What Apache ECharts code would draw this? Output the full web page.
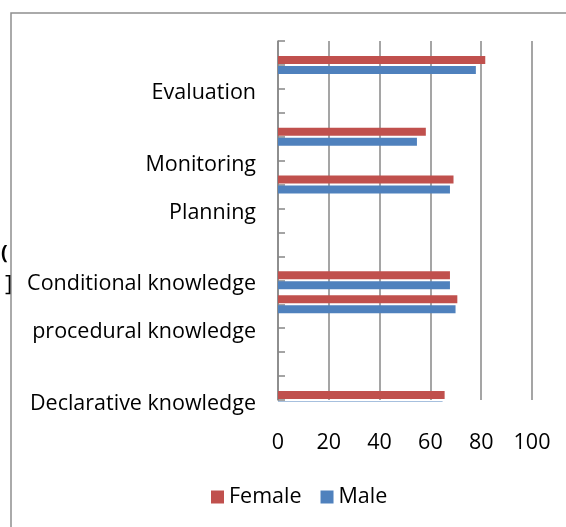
<!DOCTYPE html>
<html>
<head>
<meta charset="utf-8">
<script src="https://cdn.jsdelivr.net/npm/echarts@6/dist/echarts.min.js"></script>
<style>
  html, body { margin: 0; padding: 0; background: #fff; }
  #chart { width: 566px; height: 527px; }
</style>
</head>
<body>
<div id="chart"></div>
<script>
// slot positions along the vertical axis (16 tick positions, top to bottom)
const categoryLabels = [
    '', '', 'Evaluation', '', '', 'Monitoring', '', 'Planning', '', '',
    'Conditional knowledge', '', 'procedural knowledge', '', '', 'Declarative knowledge',
];
const femaleValues = [null, 81.6, null, null, 58.2, null, 69.1, null, null, null, 67.7, 70.6, null, null, null, 65.6];
const maleValues = [null, 77.9, null, null, 54.7, null, 67.7, null, null, null, 67.7, 69.9, null, null, null, 64.8];
const seriesNames = ['Female', 'Male'];
const seriesColors = ['#C0504D', '#4F81BD'];

const FONT = 'Open Sans';
const FONT_SIZE = 21.5;
const GRID_COLOR = '#878787';

const chart = echarts.init(document.getElementById('chart'), null, { renderer: 'canvas' });
window.addEventListener('resize', chart.resize);

const option = {
    animation: false,
    textStyle: { fontFamily: FONT },
    grid: { left: 278, top: 41, right: 34, bottom: 127, containLabel: false },
    legend: {
        data: seriesNames,
        left: 206,
        top: 481,
        icon: 'rect',
        itemWidth: 13,
        itemHeight: 13,
        itemGap: 19,
        textStyle: { fontFamily: FONT, fontSize: FONT_SIZE, color: '#000' },
    },
    xAxis: {
        type: 'value',
        min: 0,
        max: 100,
        interval: 20,
        axisLine: { show: false },
        axisTick: { show: false },
        axisLabel: { fontFamily: FONT, fontSize: FONT_SIZE, color: '#000', margin: 32 },
        splitLine: { lineStyle: { color: GRID_COLOR, width: 1.5 } },
    },
    yAxis: {
        type: 'category',
        inverse: true,
        boundaryGap: false,
        data: categoryLabels,
        axisLine: { show: true, lineStyle: { color: GRID_COLOR, width: 1.5 } },
        axisTick: { show: true, inside: true, length: 7, interval: 0, lineStyle: { color: GRID_COLOR, width: 1.5 } },
        axisLabel: {
            interval: 0, fontFamily: FONT, fontSize: FONT_SIZE, color: '#000', margin: 22,
            verticalAlign: 'top', lineHeight: 8,
        },
        splitLine: { show: false },
    },
    series: [femaleValues, maleValues].map((values, i) => ({
        name: seriesNames[i],
        type: 'bar',
        data: values,
        barWidth: 8,
        barGap: '25%',
        itemStyle: { color: seriesColors[i] },
    })),
    graphic: [
        {
            type: 'rect',
            shape: { x: 11, y: 13, width: 700, height: 700 },
            style: { fill: 'none', stroke: '#8f8f8f', lineWidth: 1.5 },
            silent: true,
        },
        // the plot area cuts off whatever runs past its bottom edge
        {
            type: 'rect',
            shape: { x: 270, y: 401.5, width: 280, height: 12 },
            style: { fill: '#fff' },
            z: 100,
            silent: true,
        },
        // clipped leftovers of a hidden title at the far left edge
        { type: 'text', left: 1, top: 243, style: { text: '(', font: 'bold 20px ' + FONT, fill: '#000' } },
        { type: 'text', left: 5, top: 274, style: { text: ']', font: '22px ' + FONT, fill: '#000' } },
    ],
};

chart.setOption(option);
</script>
</body>
</html>
